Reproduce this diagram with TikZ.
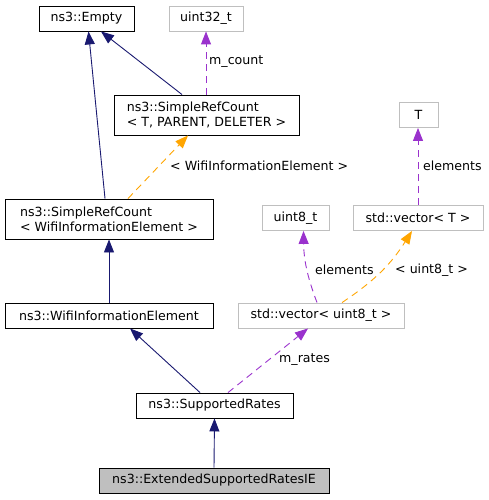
\documentclass[tikz,border=0pt]{standalone}
\usepackage{fontspec}
\setmainfont{DejaVu Sans}
\usetikzlibrary{arrows.meta,positioning,calc}
\definecolor{navyedge}{HTML}{191970}
\definecolor{purpleedge}{HTML}{9A32CD}
\definecolor{orangeedge}{HTML}{FFA500}
\definecolor{greybox}{HTML}{BFBFBF}

\begin{document}
\begin{tikzpicture}[x=1pt,y=-1pt,
    cls/.style={draw=black,fill=white,minimum height=25pt,inner sep=0pt,line width=0.9pt,
      font=\fontsize{12.6}{15}\selectfont,align=left},
    ext/.style={cls,draw=greybox},
    inherit/.style={draw=navyedge,-{Triangle[length=13pt,width=10pt]},line width=0.9pt},
    member/.style={draw=purpleedge,dash pattern=on 7pt off 5pt,
      -{Triangle[length=13pt,width=10pt,fill=purpleedge]},line width=0.9pt},
    templ/.style={draw=orangeedge,dash pattern=on 7pt off 5pt,
      -{Triangle[length=13pt,width=10pt,fill=orangeedge]},line width=0.9pt},
    lbl/.style={anchor=west,inner sep=0pt,font=\fontsize{12.6}{15}\selectfont}]
    \useasboundingbox (0,0) rectangle (489,500);

    % --- classes ---
    \node[cls, minimum width=95pt] (empty) at (86.5,18.5) {ns3::Empty};
    \node[ext, minimum width=74pt] (uint32) at (206,18.5) {uint32\_t};
    \node[cls, minimum width=185pt, minimum height=40pt] (srcT) at (206.5,115)
      {ns3::SimpleRefCount\\< T, PARENT, DELETER >};
    \node[ext, minimum width=39pt] (tparam) at (418.5,115) {T};
    \node[cls, minimum width=208pt, minimum height=40pt] (srcW) at (109,219)
      {ns3::SimpleRefCount\\< WifiInformationElement >};
    \node[ext, minimum width=67pt] (uint8) at (295.5,218) {uint8\_t};
    \node[ext, minimum width=130pt] (vecT) at (418,218) {std::vector< T >};
    \node[cls, minimum width=208pt] (wie) at (109,315.5) {ns3::WifiInformationElement};
    \node[ext, minimum width=166pt] (vec8) at (321,315.5) {std::vector< uint8\_t >};
    \node[cls, minimum width=157pt] (sr) at (214.5,405.5) {ns3::SupportedRates};
    \node[cls, fill=greybox, minimum width=230pt] (esr) at (214,480.5)
      {ns3::ExtendedSupportedRatesIE};

    % --- inheritance ---
    \draw[inherit] ([xshift=-4pt]srcW.north) -- ([xshift=2pt]empty.south);
    \draw[inherit] ([xshift=-24.5pt]srcT.north) -- ([xshift=14.5pt]empty.south);
    \draw[inherit] (wie.north) -- (srcW.south);
    \draw[inherit] ([xshift=-14.5pt]sr.north) -- ([xshift=21pt]wie.south);
    \draw[inherit] (esr.north) -- (sr.south);

    % --- members and template arguments ---
    \draw[member] ([xshift=-0.5pt]srcT.north) -- (uint32.south);
    \node[lbl] (mcount) at (209,62) {m\_count};
    \draw[templ] ([xshift=19pt]srcW.north) -- ([xshift=-18.5pt]srcT.south);
    \node[lbl] (wielbl) at (170,166) {< WifiInformationElement >};
    \draw[member] (vecT.north) -- ([xshift=-0.5pt]tparam.south);
    \node[lbl] (elemT) at (423,166) {elements};
    \draw[member] ([xshift=-4pt]vec8.north) to[bend left=10] ([xshift=8pt]uint8.south);
    \node[lbl] (elem8) at (315,270) {elements};
    \draw[templ] ([xshift=21pt]vec8.north) to[bend right=12] ([xshift=-6pt]vecT.south);
    \node[lbl] (u8lbl) at (395,270) {< uint8\_t >};
    \draw[member] ([xshift=13.5pt]sr.north) -- ([xshift=-13pt]vec8.south);
    \node[lbl] (mrates) at (279,360) {m\_rates};
  \end{tikzpicture}
\end{document}
